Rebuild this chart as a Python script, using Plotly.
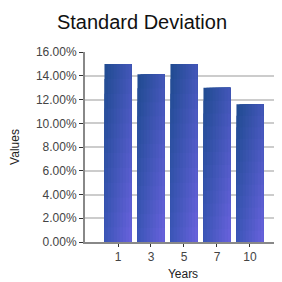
import plotly.graph_objects as go

years = ["1", "3", "5", "7", "10"]
std_dev = [0.150, 0.1415, 0.150, 0.130, 0.1162]
y_ticks = [0, 0.02, 0.04, 0.06, 0.08, 0.10, 0.12, 0.14, 0.16]

# diagonal gradient corners (top-left -> bottom-right)
c_tl = (31, 75, 143)
c_tr = (66, 86, 184)
c_bl = (60, 86, 184)
c_br = (106, 98, 222)

N = 9   # horizontal strips
M = 12  # vertical slices
bar_w = 0.82


def mix(u, v):
    top = [a + (b - a) * u for a, b in zip(c_tl, c_tr)]
    bot = [a + (b - a) * u for a, b in zip(c_bl, c_br)]
    c = [t + (b - t) * v for t, b in zip(top, bot)]
    return "rgb(%d,%d,%d)" % tuple(round(x) for x in c)


fig = go.Figure()
# overlapping rectangles anchored at bottom-right; later ones cover earlier ones
for k in range(N):
    u = (k + 0.5) / N
    for j in range(M):
        v = (j + 0.5) / M
        fig.add_trace(go.Bar(
            x=years,
            y=[s * (1 - j / M) for s in std_dev],
            base=0,
            offset=-bar_w / 2 + bar_w * k / N,
            width=bar_w * (1 - k / N),
            marker=dict(color=mix(u, v), line=dict(width=0)),
            showlegend=False,
            hoverinfo="skip",
        ))

W, H, PAD = 274, 274, 8

fig.update_layout(
    width=W, height=H,
    margin=dict(l=77, r=1, t=44, b=40),
    paper_bgcolor="white", plot_bgcolor="white",
    barmode="overlay",
    font=dict(family="Liberation Sans, Arial, sans-serif", size=12, color="#444"),
    title=dict(text="Standard Deviation", x=(142 - PAD) / W, xanchor="center",
               y=1 - (22 - PAD) / H, yanchor="middle", xref="container", yref="container",
               font=dict(size=20, color="#111")),
    xaxis=dict(
        type="category", categoryorder="array", categoryarray=years,
        range=[-1, 4.94],
        showline=True, linecolor="#888", linewidth=2,
        ticks="outside", ticklen=3, tickcolor="#333", tickwidth=1,
        showgrid=False,
        title=dict(text="Years", font=dict(size=12, color="#222"), standoff=6),
        tickfont=dict(size=12, color="#444"),
    ),
    yaxis=dict(
        range=[0, 0.1602],
        tickvals=y_ticks, tickformat=".2%",
        showline=True, linecolor="#888", linewidth=2,
        ticks="outside", ticklen=4, tickcolor="#333", tickwidth=1,
        showgrid=True, gridcolor="#cccccc", gridwidth=2,
        zeroline=False,
        title=dict(text="Values", font=dict(size=12, color="#222"), standoff=14),
        tickfont=dict(size=12, color="#444"),
    ),
)

fig.write_html("out.html")
